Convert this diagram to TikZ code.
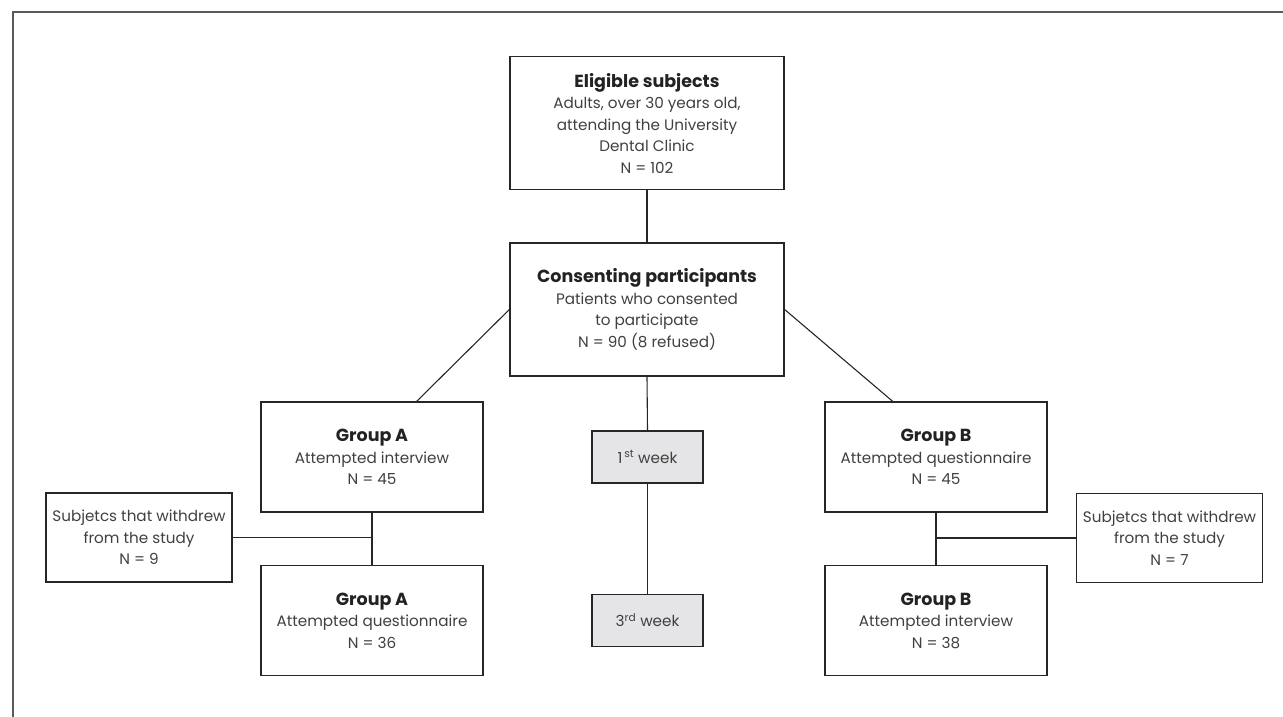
\documentclass[tikz,border=0pt]{standalone}
\usepackage{fontspec}
\usetikzlibrary{calc}
\setmainfont{Poppins}
\definecolor{framec}{HTML}{5A5A5A}
\definecolor{boxc}{HTML}{262626}
\definecolor{txt}{HTML}{404040}
\definecolor{ttl}{HTML}{222222}
\definecolor{weekfill}{HTML}{E5E5E7}
\begin{document}
\begin{tikzpicture}[x=1pt,y=-1pt,
  box/.style={draw=boxc, line width=1.3pt, align=center, inner sep=0pt, text=txt,
    font=\fontsize{15.2}{21.5}\selectfont},
  bigbox/.style={box, minimum width=274pt, minimum height=133pt},
  grpbox/.style={box, minimum width=222pt, minimum height=110pt},
  wdbox/.style={box, minimum width=186pt, minimum height=89pt},
  weekbox/.style={box, fill=weekfill, minimum width=111pt, minimum height=52pt},
  conn/.style={draw=boxc, line width=1.1pt}]
\useasboundingbox (0,0) rectangle (1283,716);
% frame (only top and left edges are visible)
\draw[framec, line width=2pt] (12.5,720) -- (12.5,12) -- (1290,12);

\newcommand{\ttl}[1]{\textcolor{ttl}{\fontsize{17.5}{21.5}\selectfont\bfseries #1}}

\node[bigbox] (elig) at (647,123) {\ttl{Eligible subjects}\\Adults, over 30 years old,\\attending the University\\Dental Clinic\\N = 102};
\node[bigbox] (cons) at (647,309.5) {\ttl{Consenting participants}\\Patients who consented\\to participate\\N = 90 (8 refused)};

\node[grpbox] (gA1) at (372,457) {\ttl{Group A}\\Attempted interview\\N = 45};
\node[grpbox] (gA2) at (372,620.5) {\ttl{Group A}\\Attempted questionnaire\\N = 36};
\node[wdbox] (wA) at (139,537.5) {Subjetcs that withdrew\\from the study\\N = 9};

\node[grpbox] (gB1) at (936,457) {\ttl{Group B}\\Attempted questionnaire\\N = 45};
\node[grpbox] (gB2) at (936,620.5) {\ttl{Group B}\\Attempted interview\\N = 38};
\node[wdbox] (wB) at (1169.5,538) {Subjetcs that withdrew\\from the study\\N = 7};

\node[weekbox] (w1) at (647.5,457) {1\textsuperscript{\,st} week};
\node[weekbox] (w3) at (647.5,620.5) {3\textsuperscript{rd} week};

\draw[conn] (elig.south) -- (cons.north);
\draw[conn] (cons.south) -- (w1.north);
\draw[conn] (w1.south) -- (w3.north);
\draw[conn] (cons.west) -- ($(gA1.north west)!0.7!(gA1.north east)$);
\draw[conn] (cons.east) -- ($(gB1.north west)!0.306!(gB1.north east)$);

\coordinate (jA) at (gA1.south |- wA.east);
\draw[conn] (gA1.south) -- (gA2.north);
\draw[conn] (wA.east) -- (jA);
\coordinate (jB) at (gB1.south |- wB.west);
\draw[conn] (gB1.south) -- (gB2.north);
\draw[conn] (wB.west) -- (jB);
\end{tikzpicture}
\end{document}
